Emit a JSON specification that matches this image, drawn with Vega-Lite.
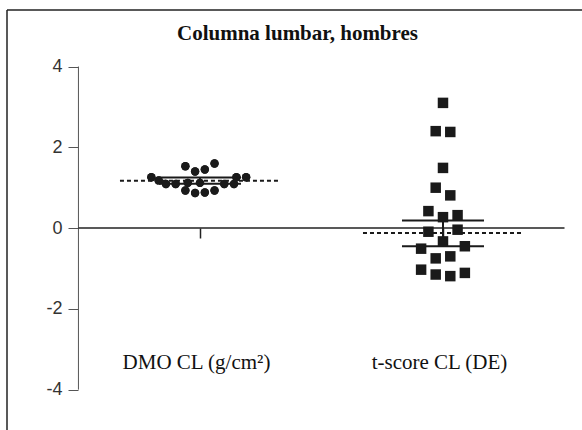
{
  "$schema": "https://vega.github.io/schema/vega-lite/v6.json",
  "width": 575,
  "height": 420,
  "autosize": {"type": "none"},
  "padding": {"left": 7, "top": 10, "right": 0, "bottom": 0},
  "background": "white",
  "config": {"view": {"stroke": null}, "font": "Liberation Serif"},
  "title": {
    "text": "Columna lumbar, hombres",
    "font": "Liberation Serif",
    "fontSize": 21,
    "fontWeight": "bold",
    "color": "#111111",
    "anchor": "middle",
    "frame": "group",
    "baseline": "alphabetic",
    "offset": -30,
    "dy": 22,
    "dx": 3
  },
  "datasets": {
    "points": [
      {"group": "DMO", "idx": 1, "value": 1.53, "slot": -6},
      {"group": "DMO", "idx": 1, "value": 1.40, "slot": -2},
      {"group": "DMO", "idx": 1, "value": 1.45, "slot": 2},
      {"group": "DMO", "idx": 1, "value": 1.60, "slot": 6},
      {"group": "DMO", "idx": 1, "value": 1.26, "slot": -20},
      {"group": "DMO", "idx": 1, "value": 1.18, "slot": -17},
      {"group": "DMO", "idx": 1, "value": 1.09, "slot": -14},
      {"group": "DMO", "idx": 1, "value": 1.09, "slot": -10},
      {"group": "DMO", "idx": 1, "value": 1.12, "slot": -5},
      {"group": "DMO", "idx": 1, "value": 1.12, "slot": 0},
      {"group": "DMO", "idx": 1, "value": 1.09, "slot": 10},
      {"group": "DMO", "idx": 1, "value": 1.09, "slot": 14},
      {"group": "DMO", "idx": 1, "value": 1.26, "slot": 15},
      {"group": "DMO", "idx": 1, "value": 1.26, "slot": 19},
      {"group": "DMO", "idx": 1, "value": 0.93, "slot": -6},
      {"group": "DMO", "idx": 1, "value": 0.87, "slot": -2},
      {"group": "DMO", "idx": 1, "value": 0.88, "slot": 2},
      {"group": "DMO", "idx": 1, "value": 0.93, "slot": 6},
      {"group": "T", "idx": 2, "value": 3.10, "slot": 0},
      {"group": "T", "idx": 2, "value": 2.40, "slot": -3},
      {"group": "T", "idx": 2, "value": 2.38, "slot": 3},
      {"group": "T", "idx": 2, "value": 1.49, "slot": 0},
      {"group": "T", "idx": 2, "value": 1.00, "slot": -3},
      {"group": "T", "idx": 2, "value": 0.81, "slot": 3},
      {"group": "T", "idx": 2, "value": 0.42, "slot": -6},
      {"group": "T", "idx": 2, "value": 0.27, "slot": 0},
      {"group": "T", "idx": 2, "value": 0.32, "slot": 6},
      {"group": "T", "idx": 2, "value": -0.09, "slot": -6},
      {"group": "T", "idx": 2, "value": -0.04, "slot": 6},
      {"group": "T", "idx": 2, "value": -0.33, "slot": 0},
      {"group": "T", "idx": 2, "value": -0.51, "slot": -9},
      {"group": "T", "idx": 2, "value": -0.45, "slot": 9},
      {"group": "T", "idx": 2, "value": -0.75, "slot": -3},
      {"group": "T", "idx": 2, "value": -0.70, "slot": 3},
      {"group": "T", "idx": 2, "value": -1.03, "slot": -9},
      {"group": "T", "idx": 2, "value": -1.15, "slot": -3},
      {"group": "T", "idx": 2, "value": -1.19, "slot": 3},
      {"group": "T", "idx": 2, "value": -1.11, "slot": 9}
    ],
    "summary": [
      {"idx": 1, "lo": 1.10, "mid": 1.17, "hi": 1.25},
      {"idx": 2, "lo": -0.45, "mid": -0.12, "hi": 0.19}
    ],
    "one": [{}]
  },
  "layer": [
    {
      "data": {"name": "points"},
      "transform": [
        {"filter": "datum.group === 'DMO'"},
        {"calculate": "datum.idx + datum.slot / 100", "as": "xpos"}
      ],
      "mark": {"type": "point", "shape": "circle", "filled": true, "size": 70, "color": "#1a1a1a", "opacity": 1},
      "encoding": {
        "x": {
          "field": "xpos", "type": "quantitative", "title": null,
          "scale": {"domain": [0.206, 2.572], "nice": false, "zero": false},
          "axis": {
            "values": [1, 2], "offset": -202, "domain": false, "grid": false,
            "tickSize": 10, "tickColor": "#222222", "tickWidth": 1.5,
            "labelExpr": "datum.value == 1 ? 'DMO CL (g/cm²)' : 't-score CL (DE)'",
            "labelFont": "Liberation Serif", "labelFontSize": 21, "labelColor": "#111111",
            "labelBaseline": "alphabetic", "labelPadding": 130, "labelOffset": -4,
            "labelFlush": false, "labelOverlap": false
          }
        },
        "y": {
          "field": "value", "type": "quantitative", "title": null,
          "scale": {"domain": [-5, 5.4], "nice": false, "zero": false},
          "axis": {
            "values": [-4, -2, 0, 2, 4], "offset": -71, "domain": false, "grid": false,
            "tickSize": 10, "tickColor": "#555555", "tickWidth": 1,
            "labelExpr": "'' + datum.value",
            "labelFont": "Liberation Sans", "labelFontSize": 18, "labelColor": "#333333", "labelPadding": 6
          }
        }
      }
    },
    {
      "data": {"name": "one"},
      "mark": {"type": "rule", "color": "#222222", "strokeWidth": 1.5},
      "encoding": {
        "y": {"datum": 5.4, "type": "quantitative", "title": null}
      }
    },
    {
      "data": {"name": "one"},
      "mark": {"type": "rule", "color": "#222222", "strokeWidth": 1.5},
      "encoding": {
        "x": {"datum": 0.206, "type": "quantitative", "title": null}
      }
    },
    {
      "data": {"name": "one"},
      "mark": {"type": "rule", "color": "#555555", "strokeWidth": 1},
      "encoding": {
        "x": {"datum": 0.5, "type": "quantitative", "title": null},
        "y": {"datum": -4, "type": "quantitative", "title": null},
        "y2": {"datum": 4}
      }
    },
    {
      "data": {"name": "one"},
      "mark": {"type": "rule", "color": "#222222", "strokeWidth": 1.5},
      "encoding": {
        "x": {"datum": 0.5, "type": "quantitative", "title": null},
        "x2": {"datum": 2.5},
        "y": {"datum": 0, "type": "quantitative", "title": null}
      }
    },
    {
      "data": {"name": "summary"},
      "mark": {"type": "rule", "color": "#1a1a1a", "strokeWidth": 2, "xOffset": -41, "x2Offset": 41},
      "encoding": {
        "x": {"field": "idx", "type": "quantitative", "title": null},
        "x2": {"field": "idx"},
        "y": {"field": "hi", "type": "quantitative", "title": null}
      }
    },
    {
      "data": {"name": "summary"},
      "mark": {"type": "rule", "color": "#1a1a1a", "strokeWidth": 2, "xOffset": -41, "x2Offset": 41},
      "encoding": {
        "x": {"field": "idx", "type": "quantitative", "title": null},
        "x2": {"field": "idx"},
        "y": {"field": "lo", "type": "quantitative", "title": null}
      }
    },
    {
      "data": {"name": "summary"},
      "mark": {"type": "rule", "color": "#1a1a1a", "strokeWidth": 2},
      "encoding": {
        "x": {"field": "idx", "type": "quantitative", "title": null},
        "y": {"field": "lo", "type": "quantitative", "title": null},
        "y2": {"field": "hi"}
      }
    },
    {
      "data": {"name": "summary"},
      "mark": {"type": "rule", "color": "#1a1a1a", "strokeWidth": 2, "strokeDash": [4, 3], "xOffset": -80, "x2Offset": 80},
      "encoding": {
        "x": {"field": "idx", "type": "quantitative", "title": null},
        "x2": {"field": "idx"},
        "y": {"field": "mid", "type": "quantitative", "title": null}
      }
    },
    {
      "data": {"name": "points"},
      "transform": [
        {"filter": "datum.group === 'DMO'"},
        {"calculate": "datum.idx + datum.slot / 100", "as": "xpos"}
      ],
      "mark": {"type": "point", "shape": "circle", "filled": true, "size": 70, "color": "#1a1a1a", "opacity": 1},
      "encoding": {
        "x": {"field": "xpos", "type": "quantitative", "title": null},
        "y": {"field": "value", "type": "quantitative", "title": null}
      }
    },
    {
      "data": {"name": "points"},
      "transform": [
        {"filter": "datum.group === 'T'"},
        {"calculate": "datum.idx + datum.slot / 100", "as": "xpos"}
      ],
      "mark": {"type": "point", "shape": "square", "filled": true, "size": 110, "color": "#1a1a1a", "opacity": 1},
      "encoding": {
        "x": {"field": "xpos", "type": "quantitative", "title": null},
        "y": {"field": "value", "type": "quantitative", "title": null}
      }
    }
  ]
}
